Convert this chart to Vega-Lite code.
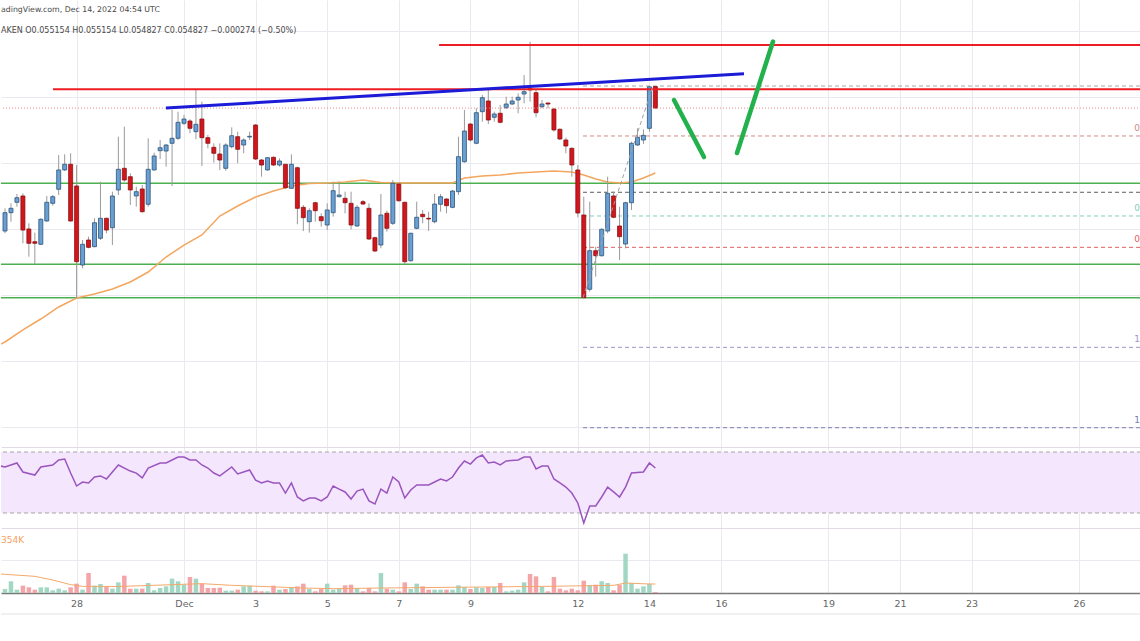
{
  "$schema": "https://vega.github.io/schema/vega-lite/v6.json",
  "background": "white",
  "padding": 0,
  "spacing": 0,
  "bounds": "flush",
  "config": {
    "view": {"stroke": null},
    "font": "DejaVu Sans",
    "scale": {"continuousPadding": 0},
    "axis": {"labels": false, "ticks": false, "domain": false, "grid": true, "gridColor": "#e9e9ef", "gridWidth": 1, "minExtent": 0, "titlePadding": 0, "titleFontSize": 0, "labelPadding": 0}
  },
  "datasets": {
    "candles": [
      {"t":"2022-11-26T00:00Z","o":0.052965,"h":0.053309,"l":0.052931,"c":0.053243,"v":180},
      {"t":"2022-11-26T04:00Z","o":0.053243,"h":0.053385,"l":0.053106,"c":0.053309,"v":527},
      {"t":"2022-11-26T08:00Z","o":0.0534,"h":0.053526,"l":0.053333,"c":0.05347,"v":150},
      {"t":"2022-11-26T12:00Z","o":0.053496,"h":0.053536,"l":0.052779,"c":0.05298,"v":330},
      {"t":"2022-11-26T16:00Z","o":0.052996,"h":0.053082,"l":0.052576,"c":0.052779,"v":255},
      {"t":"2022-11-26T20:00Z","o":0.052803,"h":0.05294,"l":0.052465,"c":0.052779,"v":150},
      {"t":"2022-11-27T00:00Z","o":0.052764,"h":0.053158,"l":0.052753,"c":0.053143,"v":255},
      {"t":"2022-11-27T04:00Z","o":0.053117,"h":0.053496,"l":0.053106,"c":0.0534,"v":255},
      {"t":"2022-11-27T08:00Z","o":0.053385,"h":0.053511,"l":0.053349,"c":0.053485,"v":120},
      {"t":"2022-11-27T12:00Z","o":0.053597,"h":0.054117,"l":0.053511,"c":0.05389,"v":195},
      {"t":"2022-11-27T16:00Z","o":0.05389,"h":0.054127,"l":0.053874,"c":0.053976,"v":120},
      {"t":"2022-11-27T20:00Z","o":0.053976,"h":0.054143,"l":0.053106,"c":0.053117,"v":255},
      {"t":"2022-11-28T00:00Z","o":0.053647,"h":0.053965,"l":0.051946,"c":0.0525,"v":420},
      {"t":"2022-11-28T04:00Z","o":0.05245,"h":0.052829,"l":0.0524,"c":0.052764,"v":150},
      {"t":"2022-11-28T08:00Z","o":0.052829,"h":0.052879,"l":0.052703,"c":0.052718,"v":900},
      {"t":"2022-11-28T12:00Z","o":0.052728,"h":0.053158,"l":0.052718,"c":0.053091,"v":330},
      {"t":"2022-11-28T16:00Z","o":0.052855,"h":0.053712,"l":0.052829,"c":0.053158,"v":405},
      {"t":"2022-11-28T20:00Z","o":0.053158,"h":0.053167,"l":0.052931,"c":0.05298,"v":270},
      {"t":"2022-11-29T00:00Z","o":0.053015,"h":0.053561,"l":0.052753,"c":0.053496,"v":195},
      {"t":"2022-11-29T04:00Z","o":0.053587,"h":0.054394,"l":0.053511,"c":0.0539,"v":480},
      {"t":"2022-11-29T08:00Z","o":0.053915,"h":0.054546,"l":0.053712,"c":0.053738,"v":780},
      {"t":"2022-11-29T12:00Z","o":0.053788,"h":0.05384,"l":0.053359,"c":0.053587,"v":195},
      {"t":"2022-11-29T16:00Z","o":0.053496,"h":0.053637,"l":0.053333,"c":0.053561,"v":195},
      {"t":"2022-11-29T20:00Z","o":0.053602,"h":0.053662,"l":0.053243,"c":0.053258,"v":195},
      {"t":"2022-11-30T00:00Z","o":0.05337,"h":0.05437,"l":0.053333,"c":0.0539,"v":450},
      {"t":"2022-11-30T04:00Z","o":0.05389,"h":0.054152,"l":0.053879,"c":0.054102,"v":120},
      {"t":"2022-11-30T08:00Z","o":0.054182,"h":0.054344,"l":0.054056,"c":0.054227,"v":225},
      {"t":"2022-11-30T12:00Z","o":0.054177,"h":0.054283,"l":0.05394,"c":0.054268,"v":300},
      {"t":"2022-11-30T16:00Z","o":0.054294,"h":0.054799,"l":0.053647,"c":0.05437,"v":645},
      {"t":"2022-11-30T20:00Z","o":0.05437,"h":0.054773,"l":0.054344,"c":0.054612,"v":527},
      {"t":"2022-12-01T00:00Z","o":0.054597,"h":0.054723,"l":0.054571,"c":0.054662,"v":375},
      {"t":"2022-12-01T04:00Z","o":0.054632,"h":0.054658,"l":0.054446,"c":0.054521,"v":720},
      {"t":"2022-12-01T08:00Z","o":0.05447,"h":0.055102,"l":0.054355,"c":0.054582,"v":645},
      {"t":"2022-12-01T12:00Z","o":0.054662,"h":0.054924,"l":0.05395,"c":0.054379,"v":420},
      {"t":"2022-12-01T16:00Z","o":0.054379,"h":0.05442,"l":0.054218,"c":0.054294,"v":225},
      {"t":"2022-12-01T20:00Z","o":0.054233,"h":0.054294,"l":0.054,"c":0.054143,"v":225},
      {"t":"2022-12-02T00:00Z","o":0.054132,"h":0.054294,"l":0.05389,"c":0.054041,"v":240},
      {"t":"2022-12-02T04:00Z","o":0.053915,"h":0.054294,"l":0.053879,"c":0.054268,"v":105},
      {"t":"2022-12-02T08:00Z","o":0.054243,"h":0.054536,"l":0.054218,"c":0.054409,"v":105},
      {"t":"2022-12-02T12:00Z","o":0.054394,"h":0.05447,"l":0.053991,"c":0.054203,"v":150},
      {"t":"2022-12-02T16:00Z","o":0.054268,"h":0.05437,"l":0.054143,"c":0.054344,"v":300},
      {"t":"2022-12-02T20:00Z","o":0.054389,"h":0.05447,"l":0.054344,"c":0.0544,"v":330},
      {"t":"2022-12-03T00:00Z","o":0.054571,"h":0.054586,"l":0.054041,"c":0.054056,"v":105},
      {"t":"2022-12-03T04:00Z","o":0.054041,"h":0.054056,"l":0.053788,"c":0.053965,"v":75},
      {"t":"2022-12-03T08:00Z","o":0.05389,"h":0.054082,"l":0.053879,"c":0.054076,"v":75},
      {"t":"2022-12-03T12:00Z","o":0.054082,"h":0.054094,"l":0.05395,"c":0.053965,"v":330},
      {"t":"2022-12-03T16:00Z","o":0.053965,"h":0.054067,"l":0.05394,"c":0.054026,"v":150},
      {"t":"2022-12-03T20:00Z","o":0.053976,"h":0.05398,"l":0.053602,"c":0.053621,"v":180},
      {"t":"2022-12-04T00:00Z","o":0.053612,"h":0.054127,"l":0.053602,"c":0.053976,"v":270},
      {"t":"2022-12-04T04:00Z","o":0.053924,"h":0.05394,"l":0.053067,"c":0.053309,"v":300},
      {"t":"2022-12-04T08:00Z","o":0.053324,"h":0.053359,"l":0.052965,"c":0.053167,"v":420},
      {"t":"2022-12-04T12:00Z","o":0.053106,"h":0.053309,"l":0.05294,"c":0.053273,"v":180},
      {"t":"2022-12-04T16:00Z","o":0.053394,"h":0.053409,"l":0.053106,"c":0.053273,"v":75},
      {"t":"2022-12-04T20:00Z","o":0.053182,"h":0.053234,"l":0.053031,"c":0.053121,"v":180},
      {"t":"2022-12-05T00:00Z","o":0.053056,"h":0.053385,"l":0.05298,"c":0.053284,"v":420},
      {"t":"2022-12-05T04:00Z","o":0.053243,"h":0.053712,"l":0.053182,"c":0.053576,"v":150},
      {"t":"2022-12-05T08:00Z","o":0.053485,"h":0.053712,"l":0.053476,"c":0.053511,"v":180},
      {"t":"2022-12-05T12:00Z","o":0.053461,"h":0.053561,"l":0.053234,"c":0.053394,"v":345},
      {"t":"2022-12-05T16:00Z","o":0.053385,"h":0.053561,"l":0.052991,"c":0.053056,"v":375},
      {"t":"2022-12-05T20:00Z","o":0.053041,"h":0.053359,"l":0.053031,"c":0.053324,"v":225},
      {"t":"2022-12-06T00:00Z","o":0.053409,"h":0.053435,"l":0.053359,"c":0.053374,"v":75},
      {"t":"2022-12-06T04:00Z","o":0.053309,"h":0.053385,"l":0.052829,"c":0.052844,"v":225},
      {"t":"2022-12-06T08:00Z","o":0.052864,"h":0.052879,"l":0.052647,"c":0.052662,"v":75},
      {"t":"2022-12-06T12:00Z","o":0.052753,"h":0.053526,"l":0.052703,"c":0.053208,"v":900},
      {"t":"2022-12-06T16:00Z","o":0.053234,"h":0.053273,"l":0.052955,"c":0.053006,"v":195},
      {"t":"2022-12-06T20:00Z","o":0.053082,"h":0.053738,"l":0.053056,"c":0.053688,"v":150},
      {"t":"2022-12-07T00:00Z","o":0.053677,"h":0.053697,"l":0.053409,"c":0.053424,"v":75},
      {"t":"2022-12-07T04:00Z","o":0.0534,"h":0.053409,"l":0.052465,"c":0.0525,"v":480},
      {"t":"2022-12-07T08:00Z","o":0.052515,"h":0.05294,"l":0.0525,"c":0.052931,"v":180},
      {"t":"2022-12-07T12:00Z","o":0.053006,"h":0.053409,"l":0.052991,"c":0.053173,"v":420},
      {"t":"2022-12-07T16:00Z","o":0.053218,"h":0.053284,"l":0.053082,"c":0.053182,"v":300},
      {"t":"2022-12-07T20:00Z","o":0.053158,"h":0.053258,"l":0.052965,"c":0.053147,"v":150},
      {"t":"2022-12-08T00:00Z","o":0.053106,"h":0.053526,"l":0.053082,"c":0.053374,"v":150},
      {"t":"2022-12-08T04:00Z","o":0.05337,"h":0.053526,"l":0.053258,"c":0.053485,"v":150},
      {"t":"2022-12-08T08:00Z","o":0.05345,"h":0.053461,"l":0.053234,"c":0.053349,"v":150},
      {"t":"2022-12-08T12:00Z","o":0.053324,"h":0.053587,"l":0.053309,"c":0.053571,"v":150},
      {"t":"2022-12-08T16:00Z","o":0.053561,"h":0.054394,"l":0.053511,"c":0.054091,"v":345},
      {"t":"2022-12-08T20:00Z","o":0.054015,"h":0.054799,"l":0.054,"c":0.05448,"v":270},
      {"t":"2022-12-09T00:00Z","o":0.054586,"h":0.054597,"l":0.054318,"c":0.054344,"v":180},
      {"t":"2022-12-09T04:00Z","o":0.054294,"h":0.054824,"l":0.054279,"c":0.054758,"v":255},
      {"t":"2022-12-09T08:00Z","o":0.054773,"h":0.055026,"l":0.054621,"c":0.054985,"v":225},
      {"t":"2022-12-09T12:00Z","o":0.054935,"h":0.055102,"l":0.054586,"c":0.054647,"v":270},
      {"t":"2022-12-09T16:00Z","o":0.054688,"h":0.054773,"l":0.054621,"c":0.054738,"v":270},
      {"t":"2022-12-09T20:00Z","o":0.054749,"h":0.054874,"l":0.054597,"c":0.054612,"v":450},
      {"t":"2022-12-10T00:00Z","o":0.054833,"h":0.055,"l":0.054814,"c":0.054889,"v":75},
      {"t":"2022-12-10T04:00Z","o":0.054889,"h":0.055,"l":0.054874,"c":0.054935,"v":105},
      {"t":"2022-12-10T08:00Z","o":0.05495,"h":0.055052,"l":0.054749,"c":0.054991,"v":150},
      {"t":"2022-12-10T12:00Z","o":0.055041,"h":0.055329,"l":0.0549,"c":0.055076,"v":480},
      {"t":"2022-12-10T16:00Z","o":0.055127,"h":0.055833,"l":0.054924,"c":0.055102,"v":855},
      {"t":"2022-12-10T20:00Z","o":0.055061,"h":0.055102,"l":0.054688,"c":0.054758,"v":750},
      {"t":"2022-12-11T00:00Z","o":0.054849,"h":0.05495,"l":0.054824,"c":0.054889,"v":270},
      {"t":"2022-12-11T04:00Z","o":0.054905,"h":0.054909,"l":0.054824,"c":0.054889,"v":75},
      {"t":"2022-12-11T08:00Z","o":0.054814,"h":0.054824,"l":0.05447,"c":0.054496,"v":720},
      {"t":"2022-12-11T12:00Z","o":0.054506,"h":0.054521,"l":0.054344,"c":0.054359,"v":195},
      {"t":"2022-12-11T16:00Z","o":0.054344,"h":0.054379,"l":0.054143,"c":0.054253,"v":120},
      {"t":"2022-12-11T20:00Z","o":0.054218,"h":0.054233,"l":0.053788,"c":0.053965,"v":195},
      {"t":"2022-12-12T00:00Z","o":0.05389,"h":0.053965,"l":0.053173,"c":0.053238,"v":120},
      {"t":"2022-12-12T04:00Z","o":0.053208,"h":0.053485,"l":0.051946,"c":0.051955,"v":555},
      {"t":"2022-12-12T08:00Z","o":0.052082,"h":0.053409,"l":0.052046,"c":0.052667,"v":345},
      {"t":"2022-12-12T12:00Z","o":0.052667,"h":0.052728,"l":0.052273,"c":0.052591,"v":375},
      {"t":"2022-12-12T16:00Z","o":0.052591,"h":0.053006,"l":0.052576,"c":0.052991,"v":527},
      {"t":"2022-12-12T20:00Z","o":0.052965,"h":0.053788,"l":0.052931,"c":0.053536,"v":450},
      {"t":"2022-12-13T00:00Z","o":0.053496,"h":0.053561,"l":0.053158,"c":0.053173,"v":120},
      {"t":"2022-12-13T04:00Z","o":0.053041,"h":0.053333,"l":0.052526,"c":0.052879,"v":375},
      {"t":"2022-12-13T08:00Z","o":0.052768,"h":0.053409,"l":0.052703,"c":0.053394,"v":1770},
      {"t":"2022-12-13T12:00Z","o":0.053394,"h":0.054318,"l":0.053284,"c":0.054294,"v":450},
      {"t":"2022-12-13T16:00Z","o":0.054268,"h":0.054521,"l":0.054253,"c":0.054385,"v":195},
      {"t":"2022-12-13T20:00Z","o":0.054344,"h":0.054506,"l":0.054283,"c":0.054415,"v":300},
      {"t":"2022-12-14T00:00Z","o":0.054521,"h":0.05516,"l":0.05447,"c":0.05515,"v":420},
      {"t":"2022-12-14T04:00Z","o":0.055154,"h":0.055154,"l":0.054827,"c":0.054827,"v":45}
    ],
    "ma": [
      {"t":"2022-11-25T20:00Z","ma":0.051238},
      {"t":"2022-11-26T00:00Z","ma":0.051284},
      {"t":"2022-11-26T12:00Z","ma":0.051466},
      {"t":"2022-11-27T00:00Z","ma":0.051632},
      {"t":"2022-11-27T12:00Z","ma":0.051814},
      {"t":"2022-11-28T00:00Z","ma":0.05195},
      {"t":"2022-11-28T12:00Z","ma":0.052011},
      {"t":"2022-11-29T00:00Z","ma":0.052087},
      {"t":"2022-11-29T12:00Z","ma":0.052193},
      {"t":"2022-11-30T00:00Z","ma":0.052344},
      {"t":"2022-11-30T12:00Z","ma":0.052571},
      {"t":"2022-12-01T00:00Z","ma":0.052753},
      {"t":"2022-12-01T12:00Z","ma":0.052905},
      {"t":"2022-12-02T00:00Z","ma":0.053193},
      {"t":"2022-12-02T12:00Z","ma":0.053344},
      {"t":"2022-12-03T00:00Z","ma":0.05348},
      {"t":"2022-12-03T12:00Z","ma":0.053571},
      {"t":"2022-12-04T00:00Z","ma":0.053647},
      {"t":"2022-12-04T12:00Z","ma":0.053685},
      {"t":"2022-12-05T00:00Z","ma":0.053693},
      {"t":"2022-12-05T12:00Z","ma":0.053708},
      {"t":"2022-12-06T00:00Z","ma":0.053738},
      {"t":"2022-12-06T12:00Z","ma":0.0537},
      {"t":"2022-12-07T00:00Z","ma":0.053693},
      {"t":"2022-12-07T12:00Z","ma":0.053693},
      {"t":"2022-12-08T00:00Z","ma":0.053693},
      {"t":"2022-12-08T12:00Z","ma":0.053693},
      {"t":"2022-12-08T20:00Z","ma":0.053768},
      {"t":"2022-12-09T08:00Z","ma":0.053799},
      {"t":"2022-12-09T20:00Z","ma":0.053814},
      {"t":"2022-12-10T08:00Z","ma":0.053844},
      {"t":"2022-12-10T20:00Z","ma":0.053859},
      {"t":"2022-12-11T08:00Z","ma":0.053874},
      {"t":"2022-12-11T20:00Z","ma":0.053859},
      {"t":"2022-12-12T04:00Z","ma":0.053814},
      {"t":"2022-12-12T12:00Z","ma":0.053753},
      {"t":"2022-12-12T20:00Z","ma":0.053708},
      {"t":"2022-12-13T04:00Z","ma":0.053693},
      {"t":"2022-12-13T12:00Z","ma":0.053708},
      {"t":"2022-12-13T20:00Z","ma":0.053768},
      {"t":"2022-12-14T04:00Z","ma":0.053844}
    ],
    "rsi": [
      {"t":"2022-11-25T20:00Z","rsi":61.0},
      {"t":"2022-11-26T00:00Z","rsi":60.2},
      {"t":"2022-11-26T08:00Z","rsi":62.8},
      {"t":"2022-11-26T12:00Z","rsi":56.9},
      {"t":"2022-11-26T20:00Z","rsi":54.9},
      {"t":"2022-11-27T00:00Z","rsi":60.2},
      {"t":"2022-11-27T08:00Z","rsi":61.5},
      {"t":"2022-11-27T12:00Z","rsi":64.8},
      {"t":"2022-11-27T16:00Z","rsi":65.4},
      {"t":"2022-11-27T20:00Z","rsi":56.2},
      {"t":"2022-11-28T00:00Z","rsi":47.7},
      {"t":"2022-11-28T04:00Z","rsi":50.3},
      {"t":"2022-11-28T08:00Z","rsi":49.7},
      {"t":"2022-11-28T12:00Z","rsi":53.6},
      {"t":"2022-11-28T16:00Z","rsi":54.3},
      {"t":"2022-11-28T20:00Z","rsi":52.3},
      {"t":"2022-11-29T04:00Z","rsi":61.5},
      {"t":"2022-11-29T12:00Z","rsi":57.5},
      {"t":"2022-11-29T16:00Z","rsi":56.2},
      {"t":"2022-11-29T20:00Z","rsi":53.0},
      {"t":"2022-11-30T00:00Z","rsi":59.5},
      {"t":"2022-11-30T08:00Z","rsi":62.8},
      {"t":"2022-11-30T12:00Z","rsi":62.8},
      {"t":"2022-11-30T20:00Z","rsi":66.7},
      {"t":"2022-12-01T00:00Z","rsi":66.7},
      {"t":"2022-12-01T04:00Z","rsi":64.8},
      {"t":"2022-12-01T08:00Z","rsi":64.8},
      {"t":"2022-12-01T12:00Z","rsi":61.5},
      {"t":"2022-12-01T16:00Z","rsi":59.5},
      {"t":"2022-12-01T20:00Z","rsi":56.2},
      {"t":"2022-12-02T00:00Z","rsi":54.3},
      {"t":"2022-12-02T08:00Z","rsi":60.2},
      {"t":"2022-12-02T12:00Z","rsi":55.6},
      {"t":"2022-12-02T20:00Z","rsi":58.2},
      {"t":"2022-12-03T00:00Z","rsi":51.6},
      {"t":"2022-12-03T04:00Z","rsi":49.7},
      {"t":"2022-12-03T08:00Z","rsi":51.0},
      {"t":"2022-12-03T12:00Z","rsi":49.7},
      {"t":"2022-12-03T16:00Z","rsi":49.7},
      {"t":"2022-12-03T20:00Z","rsi":43.1},
      {"t":"2022-12-04T00:00Z","rsi":49.7},
      {"t":"2022-12-04T04:00Z","rsi":40.5},
      {"t":"2022-12-04T08:00Z","rsi":37.9},
      {"t":"2022-12-04T12:00Z","rsi":39.8},
      {"t":"2022-12-04T16:00Z","rsi":39.8},
      {"t":"2022-12-04T20:00Z","rsi":37.9},
      {"t":"2022-12-05T00:00Z","rsi":40.5},
      {"t":"2022-12-05T04:00Z","rsi":47.7},
      {"t":"2022-12-05T08:00Z","rsi":45.7},
      {"t":"2022-12-05T12:00Z","rsi":43.8},
      {"t":"2022-12-05T16:00Z","rsi":39.2},
      {"t":"2022-12-05T20:00Z","rsi":44.4},
      {"t":"2022-12-06T00:00Z","rsi":45.7},
      {"t":"2022-12-06T04:00Z","rsi":37.9},
      {"t":"2022-12-06T08:00Z","rsi":35.9},
      {"t":"2022-12-06T12:00Z","rsi":45.7},
      {"t":"2022-12-06T16:00Z","rsi":43.1},
      {"t":"2022-12-06T20:00Z","rsi":53.6},
      {"t":"2022-12-07T00:00Z","rsi":50.3},
      {"t":"2022-12-07T04:00Z","rsi":39.8},
      {"t":"2022-12-07T08:00Z","rsi":45.1},
      {"t":"2022-12-07T12:00Z","rsi":48.4},
      {"t":"2022-12-07T20:00Z","rsi":48.4},
      {"t":"2022-12-08T00:00Z","rsi":50.3},
      {"t":"2022-12-08T04:00Z","rsi":52.3},
      {"t":"2022-12-08T08:00Z","rsi":51.0},
      {"t":"2022-12-08T12:00Z","rsi":53.6},
      {"t":"2022-12-08T16:00Z","rsi":59.5},
      {"t":"2022-12-08T20:00Z","rsi":64.1},
      {"t":"2022-12-09T00:00Z","rsi":62.1},
      {"t":"2022-12-09T04:00Z","rsi":66.1},
      {"t":"2022-12-09T08:00Z","rsi":68.0},
      {"t":"2022-12-09T12:00Z","rsi":62.8},
      {"t":"2022-12-09T16:00Z","rsi":63.4},
      {"t":"2022-12-09T20:00Z","rsi":61.5},
      {"t":"2022-12-10T00:00Z","rsi":64.1},
      {"t":"2022-12-10T08:00Z","rsi":64.8},
      {"t":"2022-12-10T12:00Z","rsi":66.7},
      {"t":"2022-12-10T16:00Z","rsi":66.7},
      {"t":"2022-12-10T20:00Z","rsi":58.9},
      {"t":"2022-12-11T00:00Z","rsi":60.8},
      {"t":"2022-12-11T04:00Z","rsi":60.8},
      {"t":"2022-12-11T08:00Z","rsi":52.3},
      {"t":"2022-12-11T12:00Z","rsi":49.7},
      {"t":"2022-12-11T16:00Z","rsi":47.0},
      {"t":"2022-12-11T20:00Z","rsi":43.1},
      {"t":"2022-12-12T00:00Z","rsi":36.6},
      {"t":"2022-12-12T04:00Z","rsi":23.4},
      {"t":"2022-12-12T08:00Z","rsi":34.6},
      {"t":"2022-12-12T12:00Z","rsi":34.6},
      {"t":"2022-12-12T16:00Z","rsi":40.5},
      {"t":"2022-12-12T20:00Z","rsi":47.0},
      {"t":"2022-12-13T00:00Z","rsi":43.8},
      {"t":"2022-12-13T04:00Z","rsi":40.5},
      {"t":"2022-12-13T08:00Z","rsi":47.0},
      {"t":"2022-12-13T12:00Z","rsi":56.2},
      {"t":"2022-12-13T20:00Z","rsi":56.9},
      {"t":"2022-12-14T00:00Z","rsi":62.8},
      {"t":"2022-12-14T04:00Z","rsi":59.5}
    ],
    "vma": [
      {"t":"2022-11-25T20:00Z","vma":860},
      {"t":"2022-11-26T20:00Z","vma":750},
      {"t":"2022-11-27T08:00Z","vma":585},
      {"t":"2022-11-27T20:00Z","vma":375},
      {"t":"2022-11-28T04:00Z","vma":300},
      {"t":"2022-11-29T04:00Z","vma":292},
      {"t":"2022-12-01T12:00Z","vma":420},
      {"t":"2022-12-02T08:00Z","vma":345},
      {"t":"2022-12-04T08:00Z","vma":225},
      {"t":"2022-12-05T04:00Z","vma":195},
      {"t":"2022-12-06T12:00Z","vma":225},
      {"t":"2022-12-09T08:00Z","vma":270},
      {"t":"2022-12-11T04:00Z","vma":300},
      {"t":"2022-12-13T00:00Z","vma":345},
      {"t":"2022-12-13T08:00Z","vma":450},
      {"t":"2022-12-14T00:00Z","vma":405},
      {"t":"2022-12-14T04:00Z","vma":405}
    ]
  },
  "vconcat": [
    {
      "width": 1140,
      "height": 447,
      "layer": [
        {
          "data": {"values": [{"price":0.053688},{"price":0.052461},{"price":0.051955}]},
          "mark": {"type": "rule", "color": "#4caf50", "strokeWidth": 1.5},
          "encoding": {
            "y": {"field": "price", "type": "quantitative", "title": null,
                  "scale": {"domain": [0.049693, 0.056465], "zero": false, "nice": false},
                  "axis": {"values": [0.05, 0.0505, 0.051, 0.0515, 0.052, 0.0525, 0.053, 0.0535, 0.054, 0.0545, 0.055, 0.0555, 0.056]}}
          }
        },
        {
          "data": {"values": [
            {"level":"0","price":0.055162,"t0":"2022-12-12T03:30Z","t1":"2022-12-31T00:00Z"},
            {"level":"0.236","price":0.054405,"t0":"2022-12-12T03:30Z","t1":"2022-12-31T00:00Z"},
            {"level":"0.5","price":0.053552,"t0":"2022-12-12T03:30Z","t1":"2022-12-31T00:00Z"},
            {"level":"0.618","price":0.053193,"t0":"2022-12-12T03:30Z","t1":"2022-12-31T00:00Z"},
            {"level":"0.764","price":0.052718,"t0":"2022-12-12T03:30Z","t1":"2022-12-31T00:00Z"},
            {"level":"1.236","price":0.051203,"t0":"2022-12-12T03:30Z","t1":"2022-12-31T00:00Z"},
            {"level":"1.618","price":0.049985,"t0":"2022-12-12T03:30Z","t1":"2022-12-31T00:00Z"}
          ]},
          "mark": {"type": "rule", "strokeWidth": 1, "strokeDash": [4, 3], "clip": true},
          "encoding": {
            "x": {"field": "t0", "type": "temporal", "title": null, "scale": {"type": "utc", "padding": 0}},
            "x2": {"field": "t1"},
            "y": {"field": "price", "type": "quantitative", "title": null},
            "color": {"field": "level", "type": "nominal", "legend": null,
                      "scale": {"domain": ["0","0.236","0.5","0.618","0.764","1.236","1.618"],
                                "range": ["#a6a6a6","#cf8a86","#5c5c5c","#86cdbb","#e06060","#a392c7","#7b7bb8"]}}
          }
        },
        {
          "data": {"name": "ma"},
          "mark": {"type": "line", "color": "#f3a65e", "strokeWidth": 1.5, "clip": true},
          "encoding": {
            "x": {"field": "t", "type": "temporal", "title": null, "scale": {"type": "utc"}},
            "y": {"field": "ma", "type": "quantitative", "title": null}
          }
        },
        {
          "data": {"name": "candles"},
          "mark": {"type": "rule", "color": "#9a9a9a", "strokeWidth": 1},
          "encoding": {
            "x": {"field": "t", "type": "temporal", "title": null,
                  "scale": {"type": "utc", "padding": 0, "domain": [{"year":2022,"month":11,"date":25,"hours":21,"minutes":19,"utc":true},{"year":2022,"month":12,"date":27,"hours":17,"minutes":34,"utc":true}]},
                  "axis": {"values": [{"year":2022,"month":11,"date":28,"utc":true},{"year":2022,"month":12,"date":1,"utc":true},{"year":2022,"month":12,"date":3,"utc":true},{"year":2022,"month":12,"date":5,"utc":true},{"year":2022,"month":12,"date":7,"utc":true},{"year":2022,"month":12,"date":9,"utc":true},{"year":2022,"month":12,"date":12,"utc":true},{"year":2022,"month":12,"date":14,"utc":true},{"year":2022,"month":12,"date":16,"utc":true},{"year":2022,"month":12,"date":19,"utc":true},{"year":2022,"month":12,"date":21,"utc":true},{"year":2022,"month":12,"date":23,"utc":true},{"year":2022,"month":12,"date":26,"utc":true}]}},
            "y": {"field": "l", "type": "quantitative", "title": null},
            "y2": {"field": "h"}
          }
        },
        {
          "data": {"name": "candles"},
          "mark": {"type": "bar", "size": 4, "strokeWidth": 0.8},
          "encoding": {
            "x": {"field": "t", "type": "temporal", "title": null, "scale": {"type": "utc", "padding": 0}},
            "y": {"field": "o", "type": "quantitative", "title": null},
            "y2": {"field": "c"},
            "color": {"condition": {"test": "datum.c >= datum.o", "value": "#6a9fd3"}, "value": "#d2161c"},
            "stroke": {"condition": {"test": "datum.c >= datum.o", "value": "#2c5479"}, "value": "#8c1014"}
          }
        },
        {
          "data": {"values": [{}]},
          "mark": {"type": "rule", "color": "#f08a8a", "strokeWidth": 1, "strokeDash": [1, 2]},
          "encoding": {"y": {"datum": 0.054827, "type": "quantitative"}}
        },
        {
          "data": {"values": [
            {"price":0.055783,"t0":"2022-12-08T03:00Z","t1":"2022-12-31T00:00Z"},
            {"price":0.055112,"t0":"2022-11-27T08:10Z","t1":"2022-12-31T00:00Z"}
          ]},
          "mark": {"type": "rule", "color": "#ee1d23", "strokeWidth": 2, "clip": true},
          "encoding": {
            "x": {"field": "t0", "type": "temporal", "title": null, "scale": {"type": "utc"}},
            "x2": {"field": "t1"},
            "y": {"field": "price", "type": "quantitative", "title": null}
          }
        },
        {
          "data": {"values": [{"t":"2022-11-30T11:56Z","price":0.054829},{"t":"2022-12-16T15:25Z","price":0.055348}]},
          "mark": {"type": "line", "color": "#1b1bd8", "strokeWidth": 3},
          "encoding": {
            "x": {"field": "t", "type": "temporal", "title": null, "scale": {"type": "utc"}},
            "y": {"field": "price", "type": "quantitative", "title": null}
          }
        },
        {
          "data": {"values": [{"t":"2022-12-12T03:30Z","price":0.051955},{"t":"2022-12-14T02:24Z","price":0.055162}]},
          "mark": {"type": "line", "color": "#a0a0a0", "strokeWidth": 1, "strokeDash": [4, 3]},
          "encoding": {
            "x": {"field": "t", "type": "temporal", "title": null, "scale": {"type": "utc"}},
            "y": {"field": "price", "type": "quantitative", "title": null}
          }
        },
        {
          "data": {"values": [
            {"seg":"a","t":"2022-12-14T16:29Z","price":0.05495},
            {"seg":"a","t":"2022-12-15T12:36Z","price":0.054086},
            {"seg":"b","t":"2022-12-16T10:44Z","price":0.054147},
            {"seg":"b","t":"2022-12-17T10:52Z","price":0.055836}
          ]},
          "mark": {"type": "line", "color": "#22b14c", "strokeWidth": 4.5, "strokeCap": "round"},
          "encoding": {
            "x": {"field": "t", "type": "temporal", "title": null, "scale": {"type": "utc"}},
            "y": {"field": "price", "type": "quantitative", "title": null},
            "detail": {"field": "seg", "type": "nominal"}
          }
        },
        {
          "data": {"values": [
            {"level":"0.236","price":0.054405,"label":"0"},
            {"level":"0.618","price":0.053193,"label":"0"},
            {"level":"0.764","price":0.052718,"label":"0"},
            {"level":"1.236","price":0.051203,"label":"1"},
            {"level":"1.618","price":0.049985,"label":"1"}
          ]},
          "mark": {"type": "text", "align": "right", "baseline": "bottom", "dy": -3, "dx": -1, "fontSize": 9},
          "encoding": {
            "x": {"datum": {"year":2022,"month":12,"date":27,"hours":17,"minutes":34,"utc":true}, "type": "temporal"},
            "y": {"field": "price", "type": "quantitative", "title": null},
            "text": {"field": "label"},
            "color": {"field": "level", "type": "nominal", "legend": null}
          }
        },
        {
          "data": {"values": [{}]},
          "mark": {"type": "text", "align": "left", "baseline": "middle", "fontSize": 7.8, "color": "#4a4a4a"},
          "encoding": {
            "x": {"datum": {"year":2022,"month":11,"date":25,"hours":21,"minutes":19,"utc":true}, "type": "temporal"},
            "y": {"datum": 0.056314, "type": "quantitative"},
            "text": {"value": "adingView.com, Dec 14, 2022 04:54 UTC"}
          }
        },
        {
          "data": {"values": [{}]},
          "mark": {"type": "text", "align": "left", "baseline": "middle", "fontSize": 8, "color": "#4a4a4a"},
          "encoding": {
            "x": {"datum": {"year":2022,"month":11,"date":25,"hours":21,"minutes":19,"utc":true}, "type": "temporal"},
            "y": {"datum": 0.055995, "type": "quantitative"},
            "text": {"value": "AKEN  O0.055154  H0.055154  L0.054827  C0.054827  −0.000274 (−0.50%)"}
          }
        }
      ]
    },
    {
      "width": 1140,
      "height": 83,
      "layer": [
        {
          "data": {"values": [{}]},
          "mark": {"type": "rect", "color": "#f3e6fd"},
          "encoding": {
            "y": {"datum": 30, "type": "quantitative", "title": null,
                  "scale": {"domain": [18.85, 73.28], "zero": false, "nice": false},
                  "axis": {"values": [20, 40, 60, 73.1], "zindex": 1, "gridColor": "#e2dae8"}},
            "y2": {"datum": 70}
          }
        },
        {
          "data": {"values": [{"band":30},{"band":70}]},
          "mark": {"type": "rule", "color": "#a5a5a5", "strokeWidth": 1, "strokeDash": [4, 3]},
          "encoding": {"y": {"field": "band", "type": "quantitative", "title": null}}
        },
        {
          "data": {"name": "rsi"},
          "mark": {"type": "line", "color": "#9b55be", "strokeWidth": 1.5, "clip": true},
          "encoding": {
            "x": {"field": "t", "type": "temporal", "title": null,
                  "scale": {"type": "utc", "padding": 0, "domain": [{"year":2022,"month":11,"date":25,"hours":21,"minutes":19,"utc":true},{"year":2022,"month":12,"date":27,"hours":17,"minutes":34,"utc":true}]},
                  "axis": {"values": [{"year":2022,"month":11,"date":28,"utc":true},{"year":2022,"month":12,"date":1,"utc":true},{"year":2022,"month":12,"date":3,"utc":true},{"year":2022,"month":12,"date":5,"utc":true},{"year":2022,"month":12,"date":7,"utc":true},{"year":2022,"month":12,"date":9,"utc":true},{"year":2022,"month":12,"date":12,"utc":true},{"year":2022,"month":12,"date":14,"utc":true},{"year":2022,"month":12,"date":16,"utc":true},{"year":2022,"month":12,"date":19,"utc":true},{"year":2022,"month":12,"date":21,"utc":true},{"year":2022,"month":12,"date":23,"utc":true},{"year":2022,"month":12,"date":26,"utc":true}]}},
            "y": {"field": "rsi", "type": "quantitative", "title": null}
          }
        }
      ]
    },
    {
      "width": 1140,
      "height": 63,
      "layer": [
        {
          "data": {"name": "candles"},
          "mark": {"type": "bar", "size": 4.5},
          "encoding": {
            "x": {"field": "t", "type": "temporal", "title": null,
                  "scale": {"type": "utc", "padding": 0, "domain": [{"year":2022,"month":11,"date":25,"hours":21,"minutes":19,"utc":true},{"year":2022,"month":12,"date":27,"hours":17,"minutes":34,"utc":true}]},
                  "axis": {"values": [{"year":2022,"month":11,"date":28,"utc":true},{"year":2022,"month":12,"date":1,"utc":true},{"year":2022,"month":12,"date":3,"utc":true},{"year":2022,"month":12,"date":5,"utc":true},{"year":2022,"month":12,"date":7,"utc":true},{"year":2022,"month":12,"date":9,"utc":true},{"year":2022,"month":12,"date":12,"utc":true},{"year":2022,"month":12,"date":14,"utc":true},{"year":2022,"month":12,"date":16,"utc":true},{"year":2022,"month":12,"date":19,"utc":true},{"year":2022,"month":12,"date":21,"utc":true},{"year":2022,"month":12,"date":23,"utc":true},{"year":2022,"month":12,"date":26,"utc":true}],
                           "labels": true, "domain": true, "domainColor": "#7a7a7a", "domainWidth": 1.5,
                           "labelPadding": 5, "labelColor": "#666666", "labelFontSize": 9.5, "labelFont": "DejaVu Sans",
                           "labelExpr": "utcdate(datum.value) == 1 ? 'Dec' : '' + utcdate(datum.value)"}},
            "y": {"field": "v", "type": "quantitative", "title": null,
                  "scale": {"domain": [0, 2835], "nice": false},
                  "axis": {"values": [1500]}},
            "color": {"condition": {"test": "datum.c >= datum.o", "value": "#a2d8c3"}, "value": "#f4a5a8"}
          }
        },
        {
          "data": {"name": "vma"},
          "mark": {"type": "line", "color": "#f5a96a", "strokeWidth": 1, "clip": true},
          "encoding": {
            "x": {"field": "t", "type": "temporal", "title": null, "scale": {"type": "utc"}},
            "y": {"field": "vma", "type": "quantitative", "title": null}
          }
        },
        {
          "data": {"values": [{}]},
          "mark": {"type": "text", "align": "left", "baseline": "middle", "fontSize": 9, "color": "#f5a060"},
          "encoding": {
            "x": {"datum": {"year":2022,"month":11,"date":25,"hours":21,"minutes":19,"utc":true}, "type": "temporal"},
            "y": {"datum": 2385, "type": "quantitative"},
            "text": {"value": "354K"}
          }
        }
      ]
    },
    {
      "width": 1140,
      "height": 21,
      "data": {"values": [{}]},
      "mark": {"type": "rule", "color": "#e3e3e3", "strokeWidth": 1},
      "encoding": {
        "y": {"datum": 0, "type": "quantitative", "title": null, "scale": {"domain": [0, 1]}, "axis": null}
      }
    }
  ]
}
